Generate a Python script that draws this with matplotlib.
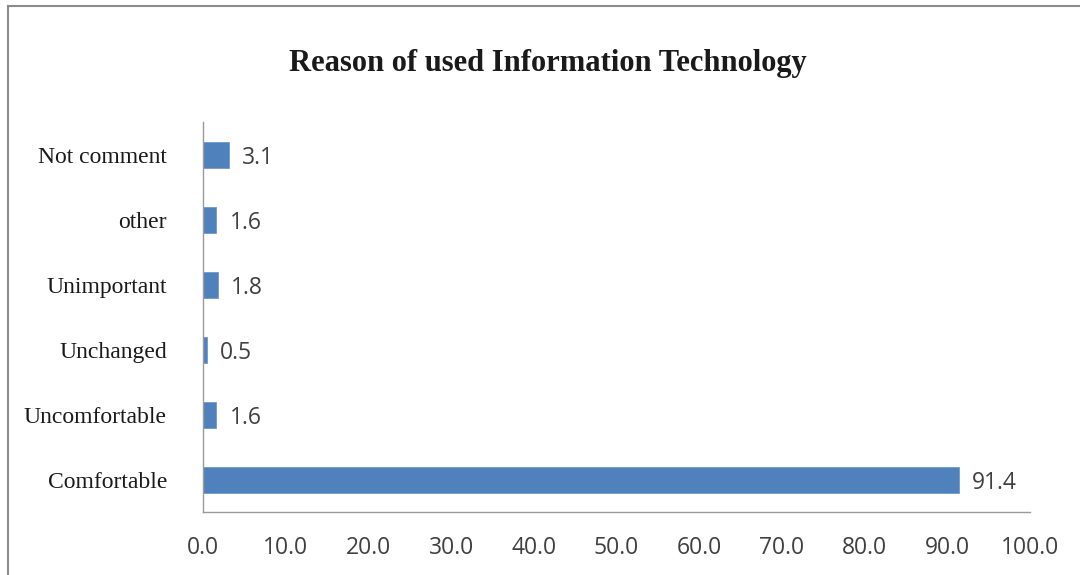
import matplotlib
matplotlib.use("Agg")
import matplotlib.pyplot as plt
from matplotlib.lines import Line2D

categories = ["Comfortable", "Uncomfortable", "Unchanged", "Unimportant", "other", "Not comment"]
values = [91.4, 1.6, 0.5, 1.8, 1.6, 3.1]
xticks = [0, 10, 20, 30, 40, 50, 60, 70, 80, 90, 100]
title = "Reason of used Information Technology"

W, H = 1080, 575
fig = plt.figure(figsize=(W / 100, H / 100), dpi=100)
fig.patch.set_facecolor("white")

# outer chart frame (top and left edges)
fig.add_artist(Line2D([8 / W, 1.0], [1 - 6 / H, 1 - 6 / H], color="#8c8c8c", lw=1.5))
fig.add_artist(Line2D([8 / W, 8 / W], [0, 1 - 6 / H], color="#8c8c8c", lw=1.5))

left, right, top, bottom = 203, 1030, 122, 512
ax = fig.add_axes([left / W, 1 - bottom / H, (right - left) / W, (bottom - top) / H])

bar_color = "#4f81bd"
ypos = list(range(len(categories)))
ax.barh(ypos, values, height=0.4, color=bar_color, edgecolor="#6f9bd0", linewidth=0.6)

for y, v in zip(ypos, values):
    ax.text(v + 1.6, y - 0.06, f"{v:.1f}", va="center", ha="left",
            fontsize=16.5, color="#404040", family="Open Sans")

ax.set_xlim(0, 100)
ax.set_ylim(-0.5, len(categories) - 0.5)
ax.set_xticks(xticks)
ax.set_xticklabels([f"{t:.1f}" for t in xticks], fontsize=16.5, color="#404040", family="Open Sans")
ax.set_yticks(ypos)
ax.set_yticklabels(categories, fontsize=17, color="#1a1a1a", family="Liberation Serif")
ax.tick_params(axis="both", length=0)
ax.tick_params(axis="x", pad=17)
ax.tick_params(axis="y", pad=26)

for s in ("top", "right"):
    ax.spines[s].set_visible(False)
for s in ("left", "bottom"):
    ax.spines[s].set_color("#9a9a9a")
    ax.spines[s].set_linewidth(1.0)

fig.text(548 / W, 1 - 64 / H, title, ha="center", va="center",
         fontsize=22, fontweight="bold", family="Liberation Serif", color="#1a1a1a")

fig.savefig("out.png", dpi=100)
